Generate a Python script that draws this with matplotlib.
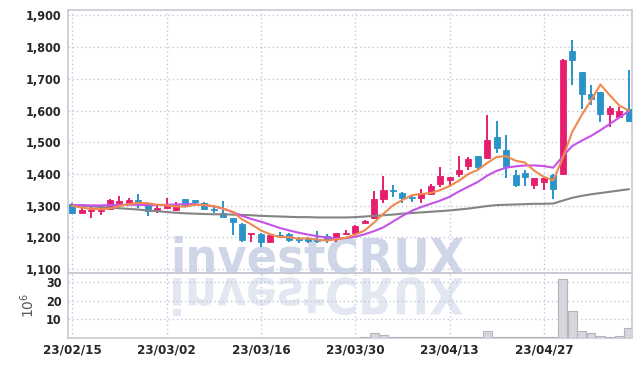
import matplotlib
matplotlib.use("Agg")
import matplotlib.pyplot as plt
import matplotlib.ticker as mticker
from matplotlib import font_manager as fm
from matplotlib.textpath import TextPath
from matplotlib.patches import PathPatch
from matplotlib.transforms import Affine2D, IdentityTransform

# ---------------- data ----------------
tick_labels = ["23/02/15", "23/03/02", "23/03/16", "23/03/30", "23/04/13", "23/04/27"]
tick_index = [0, 10, 20, 30, 40, 50]

opens = [1305, 1278, 1284, 1283, 1290, 1308, 1307, 1318, 1303, 1285,
         1292, 1287, 1320, 1317, 1310, 1291, 1276, 1261, 1242, 1211,
         1211, 1187, 1207, 1210, 1197, 1195, 1192, 1203, 1197, 1211,
         1213, 1245, 1260, 1320, 1349, 1339, 1329, 1323, 1336, 1367,
         1381, 1400, 1425, 1456, 1449, 1517, 1475, 1397, 1402, 1365,
         1375, 1397, 1400, 1787, 1721, 1651, 1658, 1588, 1580, 1606]
highs = [1308, 1302, 1300, 1292, 1320, 1330, 1324, 1337, 1305, 1298,
         1323, 1311, 1322, 1318, 1312, 1295, 1316, 1262, 1247, 1214,
         1213, 1210, 1218, 1213, 1200, 1200, 1220, 1212, 1214, 1222,
         1238, 1256, 1346, 1395, 1365, 1342, 1334, 1352, 1368, 1421,
         1392, 1456, 1454, 1457, 1585, 1567, 1524, 1412, 1413, 1388,
         1387, 1400, 1762, 1823, 1722, 1680, 1660, 1613, 1612, 1728]
lows = [1275, 1276, 1260, 1270, 1288, 1305, 1302, 1292, 1268, 1278,
        1290, 1283, 1300, 1298, 1288, 1277, 1264, 1208, 1187, 1186,
        1170, 1186, 1197, 1186, 1184, 1184, 1182, 1183, 1187, 1207,
        1212, 1242, 1258, 1308, 1327, 1310, 1313, 1308, 1333, 1358,
        1358, 1391, 1412, 1417, 1449, 1467, 1386, 1358, 1362, 1352,
        1350, 1320, 1398, 1680, 1606, 1617, 1564, 1548, 1578, 1565]
closes = [1278, 1287, 1288, 1286, 1318, 1314, 1318, 1308, 1282, 1294,
          1303, 1303, 1302, 1313, 1290, 1285, 1266, 1250, 1193, 1213,
          1187, 1208, 1203, 1193, 1191, 1188, 1189, 1191, 1213, 1215,
          1236, 1253, 1320, 1349, 1347, 1324, 1323, 1341, 1362, 1393,
          1389, 1412, 1446, 1423, 1506, 1481, 1423, 1366, 1392, 1386,
          1386, 1352, 1760, 1760, 1651, 1635, 1588, 1608, 1600, 1568]
volumes = [0.2, 0.2, 0.2, 0.2, 0.2, 0.2, 0.2, 0.2, 0.2, 0.2,
           0.2, 0.2, 0.2, 0.2, 0.2, 0.2, 0.2, 0.2, 0.2, 0.2,
           0.2, 0.2, 0.2, 0.2, 0.2, 0.2, 0.2, 0.2, 0.2, 0.2,
           0.2, 0.3, 2.9, 1.6, 0.7, 0.3, 0.3, 0.3, 0.7, 0.7,
           0.3, 0.7, 0.7, 0.7, 3.7, 0.5, 0.7, 0.3, 0.3, 0.3,
           0.3, 0.4, 31.4, 14.3, 3.6, 2.5, 1.1, 0.4, 1.1, 5.3]
ma_short = [1300, 1294, 1290, 1289, 1291, 1299, 1305, 1309, 1308, 1303,
            1301, 1298, 1297, 1303, 1302, 1299, 1291, 1281, 1257, 1241,
            1222, 1210, 1201, 1201, 1196, 1197, 1193, 1190, 1194, 1199,
            1209, 1222, 1247, 1275, 1301, 1318, 1333, 1337, 1340, 1349,
            1362, 1379, 1400, 1413, 1435, 1454, 1456, 1442, 1436, 1410,
            1391, 1380, 1450, 1532, 1585, 1632, 1682, 1648, 1616, 1600]
ma_mid = [1302, 1302, 1301, 1301, 1302, 1302, 1303, 1303, 1302, 1302,
          1303, 1304, 1305, 1305, 1302, 1298, 1291, 1280, 1268, 1258,
          1250, 1240, 1230, 1222, 1215, 1209, 1204, 1199, 1197, 1198,
          1202, 1210, 1220, 1232, 1250, 1268, 1284, 1296, 1306, 1316,
          1328, 1345, 1360, 1375, 1395, 1410, 1420, 1424, 1427, 1427,
          1425, 1420, 1455, 1488, 1505, 1520, 1538, 1558, 1578, 1598]
ma_long = [1302, 1300, 1298, 1296, 1294, 1292, 1290, 1288, 1285, 1283,
           1280, 1278, 1276, 1275, 1274, 1273, 1273, 1272, 1271, 1270,
           1268, 1267, 1266, 1265, 1264, 1264, 1263, 1263, 1263, 1263,
           1264, 1266, 1268, 1270, 1272, 1275, 1277, 1279, 1281, 1283,
           1285, 1288, 1291, 1295, 1299, 1302, 1303, 1304, 1305, 1306,
           1306, 1307, 1316, 1325, 1331, 1336, 1340, 1344, 1348, 1352]

# ---------------- style ----------------
UP = "#e61e6e"
DOWN = "#2a94c8"
GRID = "#c3c8da"
SPINE = "#c9c9d3"

tick_font = dict(family="DejaVu Sans", stretch="condensed", weight="bold")
Y_FS = 9
X_FS = 9.5

fig = plt.figure(figsize=(6.42, 3.67), dpi=100)
L, W = 68.3 / 642, (632.3 - 68.3) / 642
ax = fig.add_axes([L, 1 - 273.3 / 367, W, (273.3 - 10.3) / 367])
axv = fig.add_axes([L, 1 - 338.3 / 367, W, 65.0 / 367], sharex=ax)
for a in (ax, axv):
    a.set_facecolor("none")
    for s in a.spines.values():
        s.set_color(SPINE)
        s.set_linewidth(1.2)
    a.grid(True, color=GRID, linestyle=(0, (1, 2)), linewidth=1.0)
    a.set_axisbelow(True)
    a.tick_params(length=0, colors="#262626")

# watermark
wm_color = "#cfd6e8"
fs_wm = 36
wm_cx, wm_base = 318, 367 - 274
fig.text(wm_cx / 642, wm_base / 367, "investCRUX", ha="center", va="baseline",
         fontsize=fs_wm, fontweight="bold", color=wm_color, zorder=-5,
         family="DejaVu Sans", stretch="condensed")
fp = fm.FontProperties(family="DejaVu Sans", weight="bold", stretch="condensed")
tp = TextPath((0, 0), "investCRUX", size=fs_wm, prop=fp)
ext = tp.get_extents()
k = 100 / 72.0
tw = ext.width * k
tr = Affine2D().translate(-ext.x0, 0).scale(k, -k).translate(wm_cx - tw / 2, wm_base - 4)
fig.add_artist(PathPatch(tp, transform=tr + IdentityTransform(), facecolor="#e3e7f1",
                         edgecolor="none", zorder=-6))

x = list(range(len(opens)))
# candles
cols = [UP if c >= o else DOWN for o, c in zip(opens, closes)]
bottoms = [min(o, c) for o, c in zip(opens, closes)]
heights = [max(abs(c - o), 1.5) for o, c in zip(opens, closes)]
ax.vlines(x, lows, highs, colors=cols, linewidth=1.4, zorder=3)
ax.bar(x, heights, bottom=bottoms, width=0.64, color=cols, edgecolor=cols,
       linewidth=0.6, zorder=4)
# moving averages
ax.plot(x, ma_long, color="#848484", linewidth=1.5, zorder=5)
ax.plot(x, ma_mid, color="#c653e8", linewidth=1.5, zorder=5)
ax.plot(x, ma_short, color="#f08a4e", linewidth=1.5, zorder=5)

ax.set_xlim(-0.42, 59.38)
ax.set_ylim(1087, 1916)
ax.set_yticks(range(1100, 2000, 100))
ax.yaxis.set_major_formatter(mticker.FuncFormatter(lambda v, p: f"{int(v):,}"))
ax.set_xticks(tick_index)
plt.setp(ax.get_xticklabels(), visible=False)
for lab in ax.get_yticklabels():
    lab.set(**tick_font)
    lab.set_fontsize(Y_FS)
ax.tick_params(axis="y", pad=5)

# volume
axv.bar(x, volumes, width=0.95, color="#d6d6dc", edgecolor="#b4b4bd", linewidth=0.8, zorder=3)
axv.set_ylim(-0.2, 34.7)
axv.set_yticks([10, 20, 30])
axv.set_xticks(tick_index)
axv.set_xticklabels(tick_labels)
for lab in axv.get_yticklabels():
    lab.set(**tick_font)
    lab.set_fontsize(Y_FS)
for lab in axv.get_xticklabels():
    lab.set(**tick_font)
    lab.set_fontsize(X_FS)
axv.tick_params(axis="y", pad=5)
axv.tick_params(axis="x", pad=4)
axv.set_ylabel("$10^6$", fontsize=10, color="#555555", labelpad=6)

fig.savefig("out.png", dpi=100)
